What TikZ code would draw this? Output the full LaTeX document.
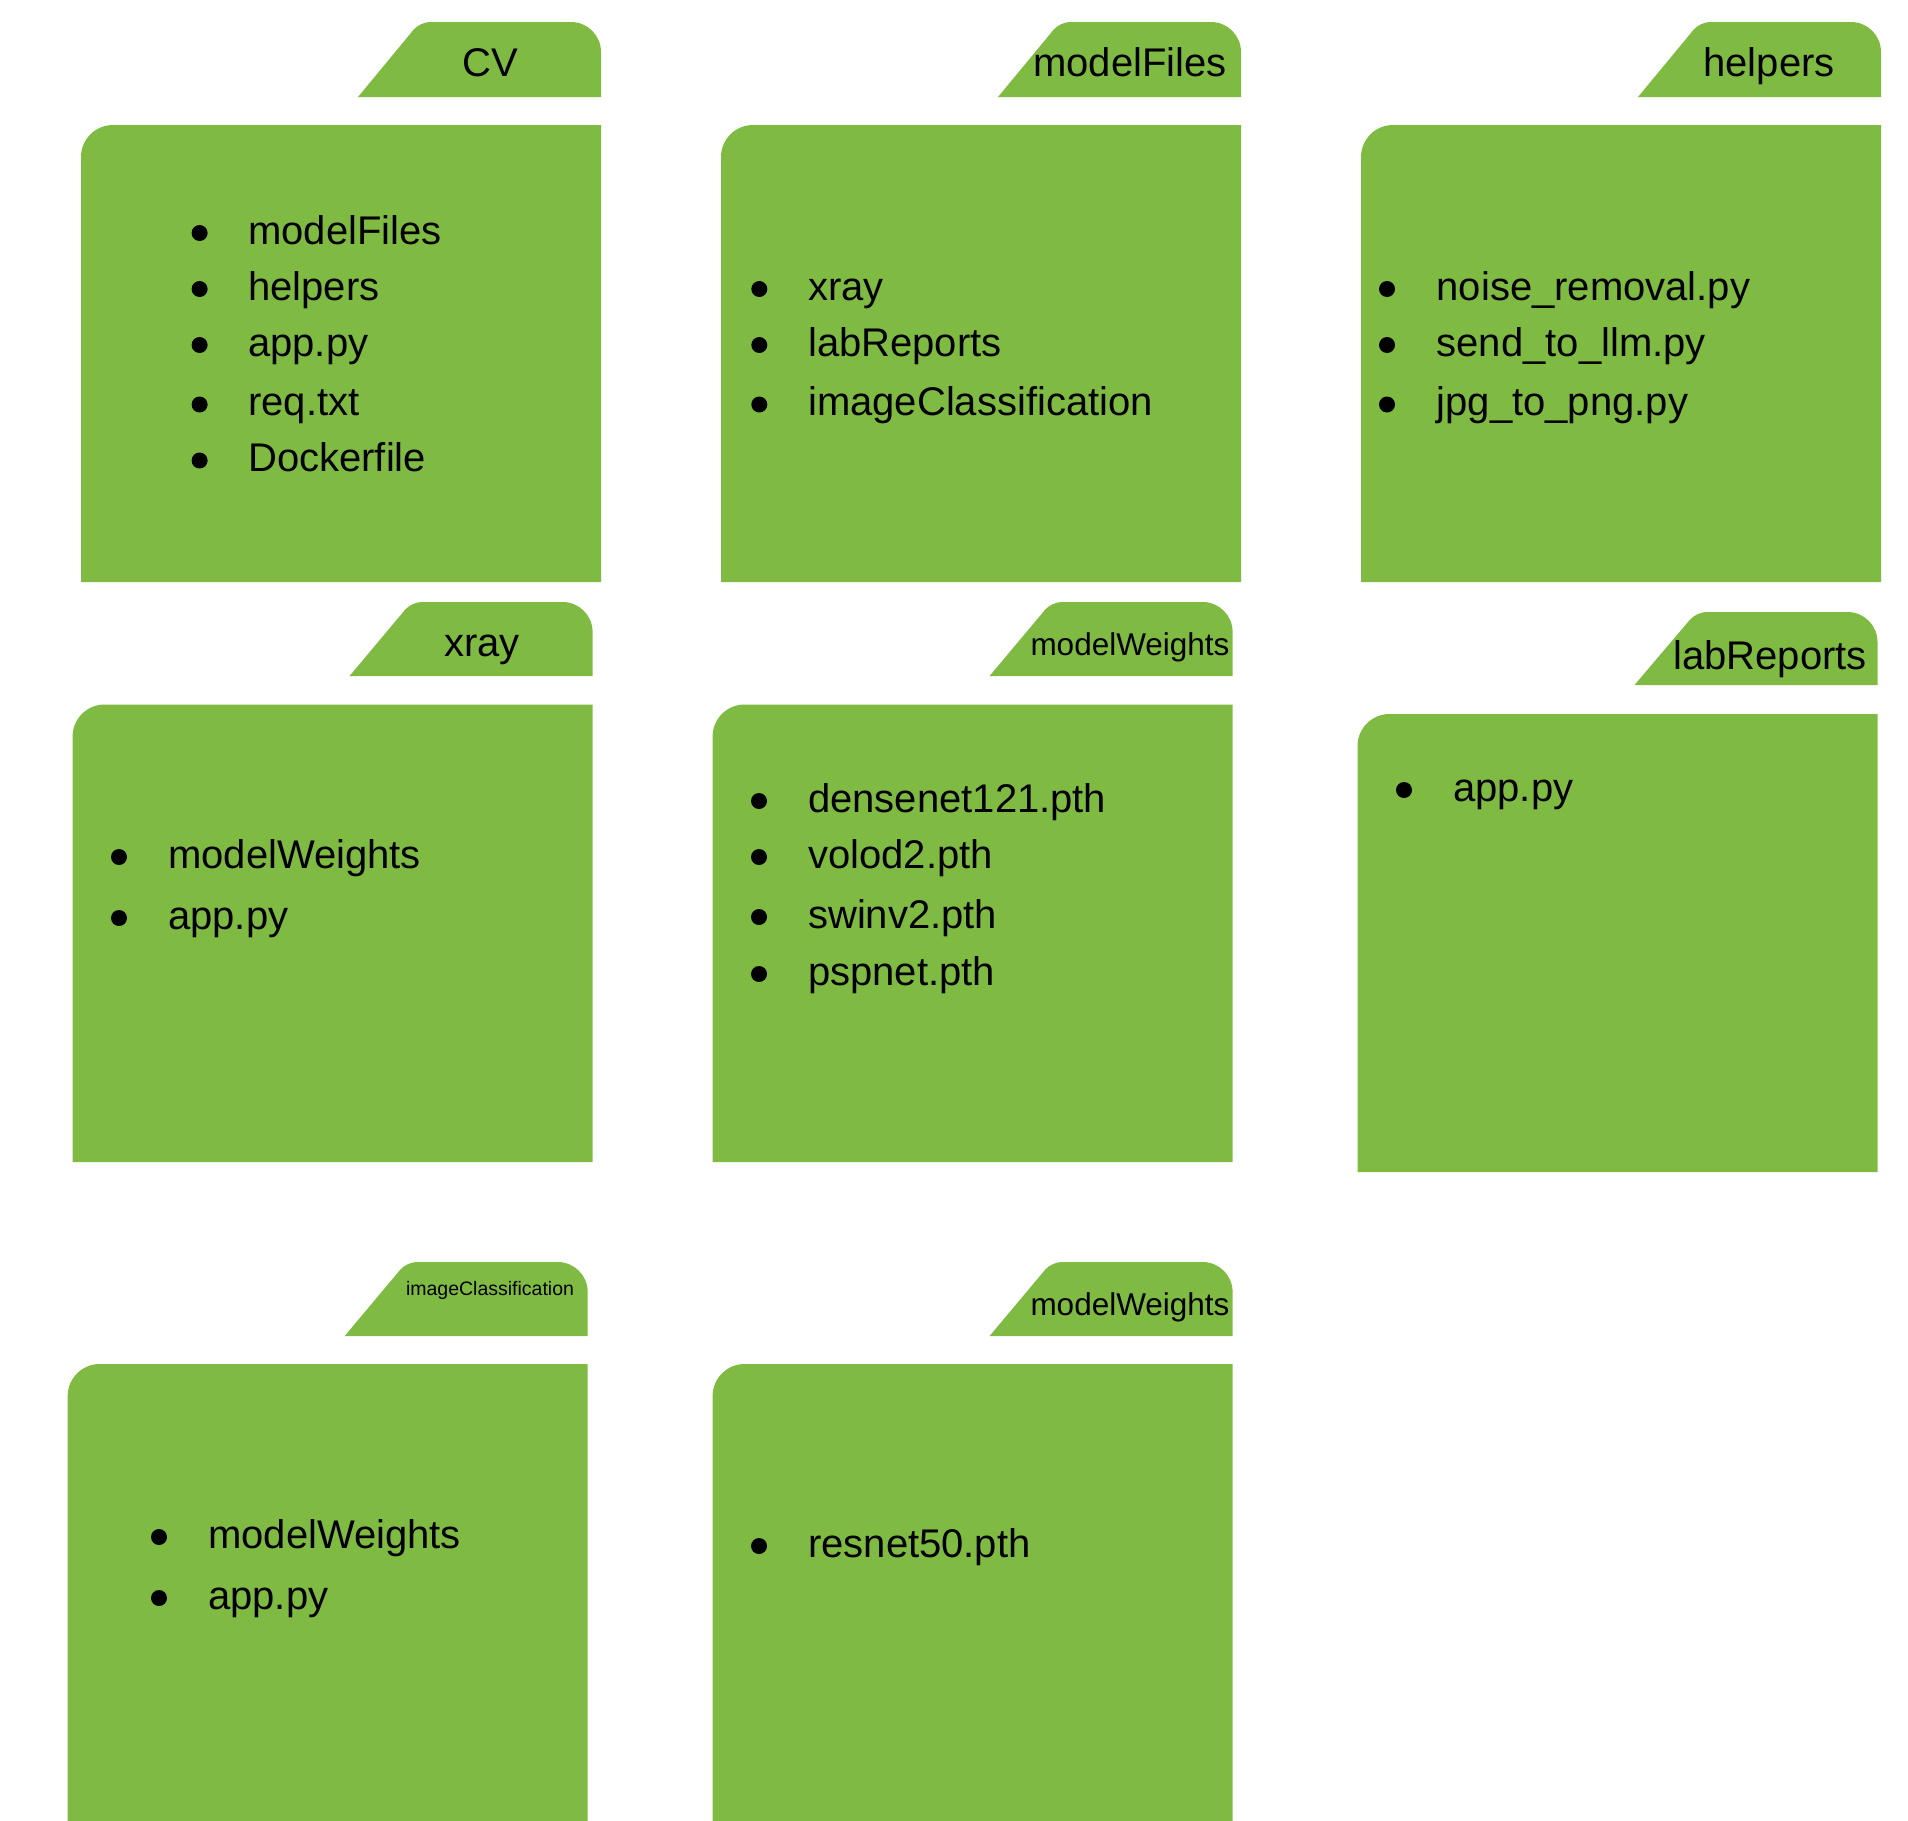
\documentclass[tikz,border=0pt]{standalone}
\usepackage{fontspec}
\setmainfont{Liberation Sans}
\definecolor{foldgreen}{RGB}{127,186,66}
\newcommand\drawfolder[5]{%
  % #1 right edge, #2 tab top, #3 tab bottom, #4 body top, #5 body bottom
  \fill[foldgreen] (#1-520,#5) [rounded corners=32pt] -- (#1-520,#4) [sharp corners] -- (#1,#4) -- (#1,#5) -- cycle;
  \fill[foldgreen] (#1-243,#3) [rounded corners=10pt] -- (#1-181,#2) [rounded corners=30pt] -- (#1,#2) [sharp corners] -- (#1,#3) -- cycle;
}
\begin{document}
\begin{tikzpicture}[x=1pt,y=-1pt,
  bul/.style={circle,fill=black,minimum size=16pt,inner sep=0pt,yshift=-3pt},
  item/.style={anchor=base west,inner sep=0pt,yshift=-3pt,font=\fontsize{40}{48}\selectfont},
  tablabel/.style={anchor=base,inner sep=0pt,font=\fontsize{40}{48}\selectfont},
  tabmid/.style={anchor=base,inner sep=0pt,font=\fontsize{31.5}{38}\selectfont},
  tabsmall/.style={anchor=base,inner sep=0pt,font=\fontsize{19.5}{23}\selectfont}]
\useasboundingbox (0,0) rectangle (1908,1820);
% folders
\drawfolder{601}{22}{97}{125}{582}
\drawfolder{1241}{22}{97}{125}{582}
\drawfolder{1881}{22}{97}{125}{582}
\drawfolder{592.6}{602}{676}{704.5}{1162}
\drawfolder{1232.6}{602}{676}{704.5}{1162}
\drawfolder{1877.5}{612}{685}{714}{1172}
\drawfolder{587.7}{1262}{1336}{1364}{1821}
\drawfolder{1232.6}{1262}{1336}{1364}{1821}
% tab labels
\node[tablabel] (tcv) at (490,76) {CV};
\node[tablabel] (tmf) at (1130,76) {modelFiles};
\node[tablabel] (thp) at (1769,76) {helpers};
\node[tablabel] (txr) at (482,656) {xray};
\node[tabmid] (tmw) at (1130,655) {modelWeights};
\node[tablabel] (tlr) at (1770,669) {labReports};
\node[tabsmall] (tic) at (490,1295) {imageClassification};
\node[tabmid] (tmw2) at (1130,1315) {modelWeights};
% CV list
\node[bul] (cvb1) at (199.6,230) {}; \node[item] (cv1) at (248,241) {modelFiles};
\node[bul] (cvb2) at (199.6,286) {}; \node[item] (cv2) at (248,297) {helpers};
\node[bul] (cvb3) at (199.6,342) {}; \node[item] (cv3) at (248,353) {app.py};
\node[bul] (cvb4) at (199.6,401.5) {}; \node[item] (cv4) at (248,412.5) {req.txt};
\node[bul] (cvb5) at (199.6,457.5) {}; \node[item] (cv5) at (248,468.5) {Dockerfile};
% modelFiles list
\node[bul] (mfb1) at (759.3,286) {}; \node[item] (mf1) at (808,297) {xray};
\node[bul] (mfb2) at (759.3,342) {}; \node[item] (mf2) at (808,353) {labReports};
\node[bul] (mfb3) at (759.3,401.5) {}; \node[item] (mf3) at (808,412.5) {imageClassification};
% helpers list
\node[bul] (hpb1) at (1387,286) {}; \node[item] (hp1) at (1436.5,297) {noise\_removal.py};
\node[bul] (hpb2) at (1387,342) {}; \node[item] (hp2) at (1436.5,353) {send\_to\_llm.py};
\node[bul] (hpb3) at (1387,401.5) {}; \node[item] (hp3) at (1436.5,412.5) {jpg\_to\_png.py};
% xray list
\node[bul] (xrb1) at (119,854) {}; \node[item] (xr1) at (168,865) {modelWeights};
\node[bul] (xrb2) at (119,915) {}; \node[item] (xr2) at (168,926) {app.py};
% modelWeights list
\node[bul] (mwb1) at (759,798) {}; \node[item] (mw1) at (808,809) {densenet121.pth};
\node[bul] (mwb2) at (759,854) {}; \node[item] (mw2) at (808,865) {volod2.pth};
\node[bul] (mwb3) at (759,914) {}; \node[item] (mw3) at (808,925) {swinv2.pth};
\node[bul] (mwb4) at (759,971) {}; \node[item] (mw4) at (808,982) {pspnet.pth};
% labReports list
\node[bul] (lrb1) at (1404,787) {}; \node[item] (lr1) at (1453,798) {app.py};
% imageClassification list
\node[bul] (icb1) at (159,1534) {}; \node[item] (ic1) at (208,1545) {modelWeights};
\node[bul] (icb2) at (159,1595) {}; \node[item] (ic2) at (208,1606) {app.py};
% modelWeights (row 3) list
\node[bul] (mvb1) at (759,1543) {}; \node[item] (mv1) at (808,1554) {resnet50.pth};
\end{tikzpicture}
\end{document}
